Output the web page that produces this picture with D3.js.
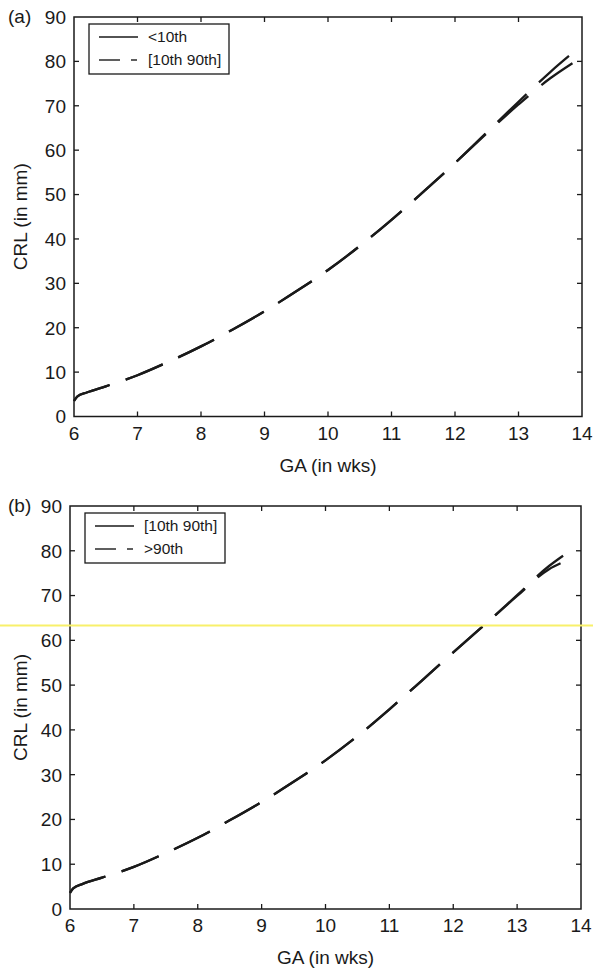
<!DOCTYPE html>
<html lang="en">
<head>
  <meta charset="UTF-8">
  <title>CRL vs GA</title>
  <script src="https://d3js.org/d3.v7.min.js"></script>
  <style>
    body {
      margin: 0;
      background: white;
    }
    text {
      font-family: 'Liberation Sans', Arial, sans-serif;
      fill: #1a1a1a;
    }
    .tick-label { font-size: 19px; }
    .axis-title { font-size: 19px; }
    .legend-text { font-size: 15.5px; }
    .panel-tag { font-size: 19px; }
  </style>
</head>
<body>

<svg width="593" height="971"></svg>

<script>
// x axis ticks (weeks) and y axis ticks (mm)
const gaTicks = [6, 7, 8, 9, 10, 11, 12, 13, 14];
const crlTicks = [0, 10, 20, 30, 40, 50, 60, 70, 80, 90];

// panel (a)
const gaA_low = [6, 6.05, 6.2, 6.5, 7, 7.5, 8, 8.5, 9, 9.5, 10, 10.5, 11, 11.5, 12, 12.5, 13, 13.5, 13.97];
const crlA_low = [3.5, 4.5, 5.4, 6.8, 9.3, 12.4, 15.8, 19.6, 23.7, 28.2, 33.0, 38.4, 44.3, 50.6, 57.1, 64.0, 70.9, 77.6, 83.3];
const gaA_mid = [6, 6.05, 6.2, 6.5, 7, 7.5, 8, 8.5, 9, 9.5, 10, 10.5, 11, 11.5, 12, 12.5, 13, 13.5, 13.85];
const crlA_mid = [3.5, 4.5, 5.4, 6.8, 9.3, 12.4, 15.8, 19.6, 23.7, 28.2, 33.0, 38.4, 44.3, 50.6, 57.1, 63.8, 70.3, 76.2, 79.6];

// panel (b)
const gaB_mid = [6, 6.05, 6.2, 6.5, 7, 7.5, 8, 8.5, 9, 9.5, 10, 10.5, 11, 11.5, 12, 12.5, 13, 13.5, 13.68];
const crlB_mid = [3.6, 4.6, 5.6, 7.0, 9.4, 12.5, 15.9, 19.8, 23.9, 28.4, 33.2, 38.6, 44.6, 50.9, 57.3, 63.6, 69.9, 75.9, 77.2];
const gaB_high = [6, 6.05, 6.2, 6.5, 7, 7.5, 8, 8.5, 9, 9.5, 10, 10.5, 11, 11.5, 12, 12.5, 13, 13.5, 13.72];
const crlB_high = [3.6, 4.6, 5.6, 7.0, 9.4, 12.5, 15.9, 19.8, 23.9, 28.4, 33.2, 38.6, 44.6, 50.9, 57.3, 63.6, 70.1, 76.6, 78.9];

const svg = d3.select("svg");
const ink = "#1a1a1a";
const dash = "40,17";

function drawPanel(p) {
  const x = d3.scaleLinear().domain([6, 14]).range([p.left, p.right]);
  const y = d3.scaleLinear().domain([0, 90]).range([p.bottom, p.top]);
  const g = svg.append("g");
  const tl = 5;

  // ticks on all four sides, pointing inward
  gaTicks.slice(1, -1).forEach(t => {
    g.append("line").attr("x1", x(t)).attr("x2", x(t)).attr("y1", p.bottom).attr("y2", p.bottom - tl)
      .attr("stroke", ink).attr("stroke-width", 1.3);
    g.append("line").attr("x1", x(t)).attr("x2", x(t)).attr("y1", p.top).attr("y2", p.top + tl)
      .attr("stroke", ink).attr("stroke-width", 1.3);
  });
  crlTicks.slice(1, -1).forEach(t => {
    g.append("line").attr("x1", p.left).attr("x2", p.left + tl).attr("y1", y(t)).attr("y2", y(t))
      .attr("stroke", ink).attr("stroke-width", 1.3);
    g.append("line").attr("x1", p.right).attr("x2", p.right - tl).attr("y1", y(t)).attr("y2", y(t))
      .attr("stroke", ink).attr("stroke-width", 1.3);
  });

  g.append("rect")
    .attr("x", p.left).attr("y", p.top)
    .attr("width", p.right - p.left).attr("height", p.bottom - p.top)
    .attr("fill", "none").attr("stroke", ink).attr("stroke-width", 1.5);

  gaTicks.forEach(t => {
    g.append("text").attr("class", "tick-label")
      .attr("x", x(t)).attr("y", p.bottom + 23)
      .attr("text-anchor", "middle").text(t);
  });
  crlTicks.forEach(t => {
    g.append("text").attr("class", "tick-label")
      .attr("x", p.left - 8).attr("y", y(t)).attr("dy", "0.36em")
      .attr("text-anchor", "end").text(t);
  });

  g.append("text").attr("class", "axis-title")
    .attr("x", (p.left + p.right) / 2).attr("y", p.bottom + 55)
    .attr("text-anchor", "middle").text("GA (in wks)");

  g.append("text").attr("class", "axis-title")
    .attr("transform", `translate(27, ${(p.top + p.bottom) / 2}) rotate(-90)`)
    .attr("text-anchor", "middle").text("CRL (in mm)");

  g.append("text").attr("class", "panel-tag")
    .attr("x", 8).attr("y", p.top + 6).text(p.tag);

  const line = d3.line()
    .x(d => x(d[0]))
    .y(d => y(d[1]))
    .curve(d3.curveMonotoneX);

  // scanned figure: both curves come out broken into dashes
  p.series.forEach(s => {
    g.append("path")
      .datum(d3.zip(s.ga, s.crl))
      .attr("d", line)
      .attr("fill", "none")
      .attr("stroke", ink)
      .attr("stroke-width", 2.3)
      .attr("stroke-dasharray", dash);
  });

  // legend
  const lx = p.left + 15, ly = p.top + 7;
  g.append("rect")
    .attr("x", lx).attr("y", ly).attr("width", 140).attr("height", 50)
    .attr("fill", "white").attr("stroke", ink).attr("stroke-width", 1.3);
  p.series.forEach((s, i) => {
    const yy = ly + 13 + i * 23;
    if (i === 0) {
      g.append("line").attr("x1", lx + 10).attr("x2", lx + 49).attr("y1", yy).attr("y2", yy)
        .attr("stroke", ink).attr("stroke-width", 1.4);
    } else {
      g.append("line").attr("x1", lx + 10).attr("x2", lx + 31).attr("y1", yy).attr("y2", yy)
        .attr("stroke", ink).attr("stroke-width", 1.4);
      g.append("line").attr("x1", lx + 42).attr("x2", lx + 48).attr("y1", yy).attr("y2", yy)
        .attr("stroke", ink).attr("stroke-width", 1.4);
    }
    g.append("text").attr("class", "legend-text")
      .attr("x", lx + 59).attr("y", yy).attr("dy", "0.35em").text(s.name);
  });
}

drawPanel({
  tag: "(a)", left: 74, right: 582, top: 17, bottom: 416.5,
  series: [
    { name: "<10th", ga: gaA_low, crl: crlA_low },
    { name: "[10th 90th]", ga: gaA_mid, crl: crlA_mid }
  ]
});

drawPanel({
  tag: "(b)", left: 70, right: 581, top: 506, bottom: 909,
  series: [
    { name: "[10th 90th]", ga: gaB_mid, crl: crlB_mid },
    { name: ">90th", ga: gaB_high, crl: crlB_high }
  ]
});

// yellow streak left by the scanner
svg.append("line")
  .attr("x1", 0).attr("x2", 593).attr("y1", 625.5).attr("y2", 625.5)
  .attr("stroke", "#f8f06a").attr("stroke-width", 1.8);
</script>

</body>
</html>
